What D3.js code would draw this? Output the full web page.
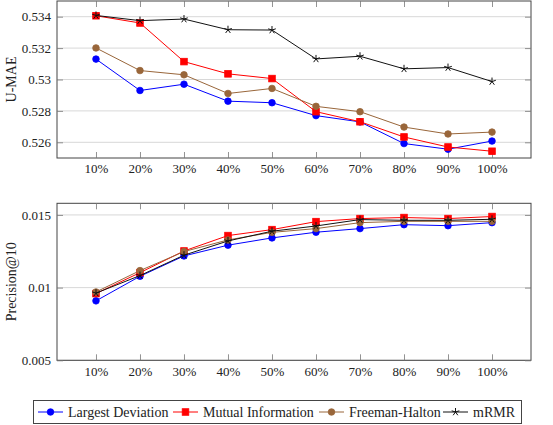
<!DOCTYPE html>
<html><head><meta charset="utf-8">
<script src="https://cdn.jsdelivr.net/npm/d3@7"></script>
<style>
html,body{margin:0;padding:0;background:#fff;}
svg{display:block;}
text{font-family:"Liberation Serif","DejaVu Serif",serif;fill:#222;}
</style></head>
<body>
<svg id="chart" width="553" height="425"></svg>
<script>
const categories = ["10%","20%","30%","40%","50%","60%","70%","80%","90%","100%"];
const seriesNames = ["Largest Deviation","Mutual Information","Freeman-Halton","mRMR"];
const seriesColors = ["#0000ff","#ff0000","#99663a","#111111"];
const seriesMarkers = ["circle","square","circle","star"];

// U-MAE values
const maeLargestDeviation = [0.5313,0.5293,0.5297,0.52862,0.52852,0.5277,0.5273,0.52592,0.52556,0.52608];
const maeMutualInformation = [0.53406,0.5336,0.53114,0.53036,0.53006,0.52795,0.52731,0.52634,0.5257,0.52543];
const maeFreemanHalton = [0.53201,0.53057,0.5303,0.52911,0.52943,0.52829,0.52795,0.52697,0.52653,0.52665];
const maeMRMR = [0.53408,0.53375,0.53385,0.53317,0.53315,0.53131,0.53148,0.53068,0.53076,0.52987];

// Precision@10 values
const precLargestDeviation = [0.00909,0.01078,0.01218,0.01292,0.01342,0.01381,0.01406,0.01433,0.01426,0.01447];
const precMutualInformation = [0.00959,0.01103,0.01252,0.01358,0.01399,0.01454,0.01475,0.01482,0.01475,0.01489];
const precFreemanHalton = [0.0097,0.01117,0.01248,0.01328,0.0138,0.01406,0.01447,0.01456,0.01456,0.01456];
const precMRMR = [0.00962,0.01083,0.01223,0.01321,0.01388,0.01424,0.01468,0.01463,0.01463,0.0147];

const maeTicks = [0.526,0.528,0.53,0.532,0.534];
const maeTickLabels = ["0.526","0.528","0.53","0.532","0.534"];
const precTicks = [0.005,0.01,0.015];
const precTickLabels = ["0.005","0.01","0.015"];

const FONT = '"Liberation Serif","DejaVu Serif",serif';
const svg = d3.select("#chart");
const frameColor = "#444";

const x = d3.scaleLinear().domain([-0.886, 9.886]).range([57, 531]);

function drawMarker(g, type, color, cx, cy, s) {
  if (type === "circle") {
    g.append("circle").attr("cx", cx).attr("cy", cy).attr("r", s)
      .attr("fill", color).attr("stroke", color).attr("stroke-width", 0.8);
  } else if (type === "square") {
    g.append("rect").attr("x", cx - s).attr("y", cy - s).attr("width", 2*s).attr("height", 2*s)
      .attr("fill", color).attr("stroke", color).attr("stroke-width", 0.8);
  } else if (type === "star") {
    let p = "";
    for (let k = 0; k < 5; k++) {
      const a = -Math.PI/2 + k * 2*Math.PI/5;
      p += `M${cx},${cy}L${cx + s*Math.cos(a)},${cy + s*Math.sin(a)}`;
    }
    g.append("path").attr("d", p).attr("stroke", color).attr("stroke-width", 1).attr("fill", "none");
  }
}

function panel(top, bottom, domain, ticks, tickLabels, data, ylabel) {
  const y = d3.scaleLinear().domain(domain).range([bottom, top]);
  const g = svg.append("g");
  g.selectAll(".grid").data(ticks).enter().append("line")
    .attr("x1", 57).attr("x2", 531)
    .attr("y1", d => y(d)).attr("y2", d => y(d))
    .attr("stroke", "#d8d8d8").attr("stroke-width", 1);
  g.append("rect").attr("x", 57).attr("y", top).attr("width", 474).attr("height", bottom - top)
    .attr("fill", "none").attr("stroke", frameColor).attr("stroke-width", 1);
  const xb = d3.axisBottom(x).tickValues(d3.range(categories.length)).tickFormat(i => categories[i]).tickSize(-6).tickPadding(6);
  const gx = g.append("g").attr("transform", `translate(0,${bottom})`).call(xb);
  const xt = d3.axisTop(x).tickValues(d3.range(categories.length)).tickFormat("").tickSize(-6);
  const gxt = g.append("g").attr("transform", `translate(0,${top})`).call(xt);
  const yl = d3.axisLeft(y).tickValues(ticks).tickFormat((d,i) => tickLabels[i]).tickSize(-6).tickPadding(6);
  const gy = g.append("g").attr("transform", `translate(57,0)`).call(yl);
  const yr = d3.axisRight(y).tickValues(ticks).tickFormat("").tickSize(-6);
  const gyr = g.append("g").attr("transform", `translate(531,0)`).call(yr);
  [gx, gxt, gy, gyr].forEach(a => {
    a.attr("font-family", FONT);
    a.select(".domain").remove();
    a.selectAll(".tick line").attr("stroke", "#777").attr("stroke-width", 0.8);
    a.selectAll("text").attr("font-family", FONT).style("font-family", FONT).style("font-size", "13px").attr("fill", "#222");
  });
  g.append("text").attr("transform", `translate(13,${(top+bottom)/2}) rotate(-90)`)
    .attr("text-anchor", "middle").attr("dominant-baseline", "middle")
    .style("font-family", FONT).style("font-size", "14px").text(ylabel);
  const line = d3.line().x((d,i) => x(i)).y(d => y(d));
  data.forEach((vals, si) => {
    const sg = g.append("g");
    sg.append("path").attr("d", line(vals)).attr("fill", "none")
      .attr("stroke", seriesColors[si]).attr("stroke-width", 1);
    vals.forEach((v, i) => drawMarker(sg, seriesMarkers[si], seriesColors[si], x(i), y(v), seriesMarkers[si] === "star" ? 4 : 3.3));
  });
}

panel(1, 158, [0.525, 0.535], maeTicks, maeTickLabels,
  [maeLargestDeviation, maeMutualInformation, maeFreemanHalton, maeMRMR], "U-MAE");
panel(203.3, 360.3, [0.005, 0.0158], precTicks, precTickLabels,
  [precLargestDeviation, precMutualInformation, precFreemanHalton, precMRMR], "Precision@10");

const lg = svg.append("g");
lg.append("rect").attr("x", 33.5).attr("y", 400.5).attr("width", 488).attr("height", 23)
  .attr("fill", "#fff").attr("stroke", frameColor).attr("stroke-width", 1);
const legendX = [38, 173, 319, 443];
seriesNames.forEach((name, si) => {
  const lx = legendX[si], ly = 412;
  lg.append("line").attr("x1", lx).attr("x2", lx + 25).attr("y1", ly).attr("y2", ly)
    .attr("stroke", seriesColors[si]).attr("stroke-width", 1);
  drawMarker(lg, seriesMarkers[si], seriesColors[si], lx + 12.5, ly, seriesMarkers[si] === "star" ? 4 : 3.3);
  lg.append("text").attr("x", lx + 30).attr("y", ly + 4.5).style("font-family", FONT).style("font-size", "14px").text(name);
});
</script>
</body></html>
